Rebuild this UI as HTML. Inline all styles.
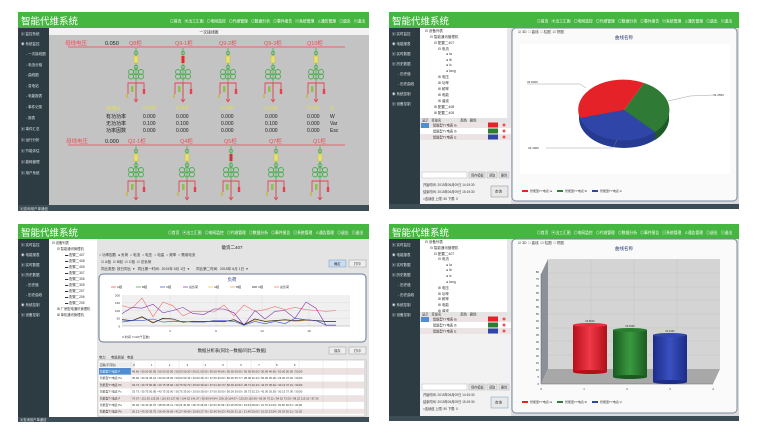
<!DOCTYPE html>
<html><head><meta charset="utf-8">
<style>
html,body{margin:0;padding:0;background:#fff;}
svg{display:block;font-family:"Liberation Sans","Noto Sans CJK SC",sans-serif;}
</style></head>
<body>
<svg width="763" height="436" viewBox="0 0 763 436" xmlns="http://www.w3.org/2000/svg">
<defs>
<g id="cub">
  <line x1="0" y1="0" x2="0" y2="54" stroke="#4caf50" stroke-width="0.8"/>
  <circle cx="0" cy="5" r="1.8" fill="none" stroke="#4caf50" stroke-width="0.8"/>
  <rect x="-2" y="8" width="4" height="7" fill="#e8e070" stroke="#c8c040" stroke-width="0.5"/>
  <circle cx="0" cy="19" r="1.8" fill="none" stroke="#4caf50" stroke-width="0.8"/>
  <g fill="none" stroke="#4caf50" stroke-width="0.9">
    <circle cx="-5" cy="24" r="2.5"/><circle cx="0" cy="24" r="2.5"/><circle cx="5" cy="24" r="2.5"/>
    <circle cx="-5" cy="28.5" r="2.5"/><circle cx="0" cy="28.5" r="2.5"/><circle cx="5" cy="28.5" r="2.5"/>
  </g>
  <polyline points="-8,46 -8,35 8,35 8,41" fill="none" stroke="#e84050" stroke-width="0.9"/>
  <line x1="0" y1="35" x2="0" y2="54" stroke="#e84050" stroke-width="0.9"/>
  <rect x="-5" y="38" width="2.5" height="6" fill="#8bc34a"/>
  <rect x="6.8" y="41" width="2.4" height="5" fill="#e84050"/>
  <line x1="-9" y1="46" x2="-9" y2="50" stroke="#c8b000" stroke-width="1"/>
  <path d="M-2,51 L0,54 L2,51" fill="none" stroke="#e84050" stroke-width="0.7"/>
</g>
<g id="side">
  <rect x="0" y="0" width="31" height="180" fill="#2d3b42"/>
</g>
</defs>

<!-- ================= TOP LEFT ================= -->
<rect x="18" y="12" width="351" height="199" fill="#c3c3c3"/>
<rect x="18" y="12" width="351" height="16" fill="#45b63f"/>
<text x="21" y="24.5" font-size="9.5" fill="#fff">智能代维系统</text>
<text x="170" y="22.5" font-size="3.8" fill="#fff" xml:space="preserve">◎首页   ▣出工汇图   ◎电网监控   ◎代维管理   ◎数据分析   ◎事件报告   ▤系统管理   ♙通告管理   ◎退出   ▤退出</text>
<rect x="18" y="28" width="31" height="177" fill="#2d3b42"/>
<g font-size="3.5" fill="#dfe6e8">
<text x="21" y="35">▣ 监控系统</text><text x="21" y="45">◉ 系统监控</text>
<text x="26" y="55">- 一次接线图</text><text x="26" y="66">- 电流分相</text><text x="26" y="76">- 曲线图</text>
<text x="26" y="87">- 变电站</text><text x="26" y="97">- 电能报表</text><text x="26" y="108">- 事件记录</text><text x="26" y="119">- 报表</text>
<text x="21" y="130">▣ 事件汇总</text><text x="21" y="141">▣ 运行分析</text><text x="21" y="152">▣ 节能评估</text><text x="21" y="163">▣ 能耗管理</text><text x="21" y="174">▣ 用户系统</text>
</g>
<rect x="49" y="28" width="320" height="7" fill="#f2f2f2"/>
<text x="209" y="33.5" font-size="3.8" fill="#333" text-anchor="middle">一次接线图</text>
<rect x="18" y="205" width="351" height="6" fill="#3c4d55"/>
<text x="20" y="209.8" font-size="3.5" fill="#ddd">▣查询用户单通信</text>

<line x1="68" y1="47" x2="345" y2="47" stroke="#e8606a" stroke-width="1"/>
<g font-size="5.5">
<text x="65" y="45" fill="#e8505a">母线电压</text>
<text x="105" y="45" fill="#222">0.050</text>
<g fill="#e8505a"><text x="129" y="45">Q8柜</text><text x="175" y="45">Q9-1柜</text><text x="219" y="45">Q9-2柜</text><text x="264" y="45">Q9-3柜</text><text x="307" y="45">Q10柜</text></g>
</g>
<use href="#cub" x="136" y="48"/><use href="#cub" x="183" y="48"/><use href="#cub" x="228" y="48"/><use href="#cub" x="273" y="48"/><use href="#cub" x="316" y="48"/>
<rect x="181.5" y="56" width="3" height="7" fill="#e8205a"/>
<g font-size="5">
<text x="106" y="110" fill="#e0e050">电流Ia</text>
<g fill="#e0e050"><text x="143" y="110">0.000</text><text x="176" y="110">0.000</text><text x="221" y="110">0.000</text><text x="265" y="110">0.000</text><text x="307" y="110">0.000</text><text x="330" y="110">A</text></g>
<g fill="#222">
<text x="106" y="118">有功功率</text><text x="143" y="118">0.000</text><text x="176" y="118">0.000</text><text x="221" y="118">0.000</text><text x="265" y="118">0.000</text><text x="307" y="118">0.000</text><text x="330" y="118">W</text>
<text x="106" y="125">无功功率</text><text x="143" y="125">0.100</text><text x="176" y="125">0.100</text><text x="221" y="125">0.000</text><text x="265" y="125">0.100</text><text x="307" y="125">0.000</text><text x="330" y="125">Var</text>
<text x="106" y="132">功率因数</text><text x="143" y="132">0.000</text><text x="176" y="132">0.000</text><text x="221" y="132">0.000</text><text x="265" y="132">0.000</text><text x="307" y="132">0.000</text><text x="330" y="132">Esc</text>
</g>
</g>
<line x1="68" y1="145" x2="345" y2="145" stroke="#e8606a" stroke-width="1"/>
<g font-size="5.5">
<text x="66" y="143" fill="#e8505a">母线电压</text>
<text x="105" y="143" fill="#222">0.000</text>
<g fill="#e8505a"><text x="128" y="143">Q2-1柜</text><text x="180" y="143">Q4柜</text><text x="224" y="143">Q5柜</text><text x="269" y="143">Q7柜</text><text x="313" y="143">Q1柜</text></g>
</g>
<use href="#cub" x="136" y="146"/><use href="#cub" x="187" y="146"/><use href="#cub" x="231" y="146"/><use href="#cub" x="276" y="146"/><use href="#cub" x="320" y="146"/>
<rect x="229.5" y="154" width="3" height="7" fill="#c03070"/>

<!-- ================= TOP RIGHT ================= -->
<rect x="389" y="12" width="350" height="197" fill="#dcdcdc"/>
<rect x="389" y="12" width="350" height="16" fill="#45b63f"/>
<text x="392" y="24.5" font-size="9.5" fill="#fff">智能代维系统</text>
<text x="537" y="22.5" font-size="3.8" fill="#fff" xml:space="preserve">◎首页   ▣出工汇图   ◎电网监控   ◎代维管理   ◎数据分析   ◎事件报告   ▤系统管理   ♙通告管理   ◎退出   ▤退出</text>
<rect x="389" y="28" width="31" height="176" fill="#2d3b42"/>
<g font-size="3.5" fill="#dfe6e8">
<text x="392" y="35">▣ 实时监控</text><text x="392" y="45">◉ 电能报表</text><text x="392" y="55">▣ 实时数据</text><text x="392" y="65">▣ 历史数据</text>
<text x="398" y="75">- 历史值</text><text x="398" y="85">- 历史曲线</text><text x="392" y="95">◉ 系统控制</text><text x="392" y="105">▣ 设备控制</text>
</g>
<rect x="420" y="28" width="91" height="176" fill="#f2f2f2"/>
<rect x="420" y="28" width="87" height="90" fill="#fff"/>
<rect x="507" y="28" width="4" height="90" fill="#e6e6e6"/>
<g font-size="3.5" fill="#333">
<text x="425" y="32">⊟ 设备列表</text><text x="430" y="38">⊟ 智能通讯管理机</text><text x="434" y="44">⊟ 配置二407</text><text x="438" y="50">⊟ 电流</text>
<text x="446" y="55">● Ia</text><text x="446" y="61">● Ib</text><text x="446" y="66">● Ic</text><text x="446" y="72">● Iavg</text>
<text x="438" y="78">⊞ 电压</text><text x="438" y="84">⊞ 功率</text><text x="438" y="90">⊞ 频率</text><text x="438" y="96">⊞ 电能</text><text x="438" y="102">⊞ 谐波</text>
<text x="434" y="108">⊞ 配置二408</text><text x="434" y="114">⊞ 配置二405</text>
</g>
<rect x="420" y="118" width="91" height="4" fill="#e4e4e4"/>
<text x="422" y="121.3" font-size="3.3" fill="#333" xml:space="preserve">显示   变量名                     颜色   删除</text>
<rect x="420" y="122" width="91" height="6" fill="#ece4e4"/><rect x="420" y="128" width="91" height="6" fill="#fff"/><rect x="420" y="134" width="91" height="6" fill="#ece4e4"/>
<rect x="421" y="123" width="8" height="5" fill="#4f8ed0"/>
<g font-size="3.2" fill="#333"><text x="433" y="126.5">智能型TY电表 Ia</text><text x="433" y="132.5">智能型TY电表 Ib</text><text x="433" y="138.5">智能型TY电表 Ic</text></g>
<rect x="488" y="122.5" width="10" height="5" fill="#e52227"/><rect x="488" y="128.5" width="10" height="5" fill="#2e7d32"/><rect x="488" y="134.5" width="10" height="5" fill="#2f46a8"/>
<circle cx="504" cy="125" r="1.5" fill="#e8505a"/><circle cx="504" cy="131" r="1.5" fill="#e8505a"/><circle cx="504" cy="137" r="1.5" fill="#e8505a"/>
<rect x="422" y="172" width="45" height="6" fill="#fff" stroke="#aaa" stroke-width="0.4"/>
<rect x="469" y="172" width="16" height="6" fill="#e8e8e8" stroke="#999" stroke-width="0.4"/><rect x="487" y="172" width="10" height="6" fill="#e8e8e8" stroke="#999" stroke-width="0.4"/><rect x="499" y="172" width="10" height="6" fill="#e8e8e8" stroke="#999" stroke-width="0.4"/>
<g font-size="3.2" fill="#333"><text x="471" y="176.3">保存模板</text><text x="489" y="176.3">读取</text><text x="501" y="176.3">删除</text>
<text x="423" y="186">开始时间: 2015年06月09日 14:19:30</text><text x="423" y="193">结束时间: 2015年06月09日 15:19:30</text><text x="423" y="200">□连续值  上限: 50     下限: 0</text></g>
<rect x="491" y="186" width="17" height="11" fill="#e8e8e8" stroke="#888" stroke-width="0.5"/>
<text x="495" y="192.5" font-size="3.5" fill="#333">查询</text>
<rect x="389" y="204" width="350" height="5" fill="#3c4d55"/>
<rect x="512" y="28" width="225" height="173" rx="4" fill="#fafafa" stroke="#7a8aa0" stroke-width="1"/>
<text x="518" y="33" font-size="3.5" fill="#333" xml:space="preserve">☑ 3D  □ 曲线  □ 柱图  ☑ 饼图</text>
<text x="624" y="39" font-size="4.5" fill="#2a3a70" text-anchor="middle">曲线名称</text>
<rect x="520" y="44" width="210" height="130" fill="#fff"/>
<!-- pie -->
<path d="M579,110 L579,118 A45,30 0 0 0 669,118 L669,110 Z" fill="#253a90"/>
<path d="M624,110 L669,110 L669,118 A45,30 0 0 1 655,140 L655,132 Z" fill="#1e5a25"/>
<path d="M624,110 L644,83 A45,30 0 0 1 655,132 Z" fill="#2f7a35"/>
<path d="M624,110 L655,132 A45,30 0 0 1 580,118 Z" fill="#2f46a8"/>
<path d="M624,110 L580,118 A45,30 0 0 1 644,83 Z" fill="#e52227"/>
<polyline points="586,88 580,84 527,84" fill="none" stroke="#888" stroke-width="0.4"/>
<polyline points="668,101 690,96 713,95" fill="none" stroke="#888" stroke-width="0.4"/>
<polyline points="617,140 613,148 546,148" fill="none" stroke="#888" stroke-width="0.4"/>
<g font-size="3" fill="#333"><text x="527" y="83">33.8020</text><text x="713" y="96">33.4550</text><text x="528" y="149">33.4960</text></g>
<g font-size="3" fill="#333">
<rect x="522" y="190" width="6" height="2" fill="#e52227"/><text x="530" y="192">智能型TY电表 Ia</text>
<rect x="557" y="190" width="6" height="2" fill="#2e7d32"/><text x="565" y="192">智能型TY电表 Ib</text>
<rect x="592" y="190" width="6" height="2" fill="#2f46a8"/><text x="600" y="192">智能型TY电表 Ic</text>
</g>

<!-- ================= BOTTOM LEFT ================= -->
<rect x="18" y="224" width="351" height="198" fill="#e4e4e4"/>
<rect x="18" y="224" width="351" height="15" fill="#45b63f"/>
<text x="21" y="236" font-size="9.5" fill="#fff">智能代维系统</text>
<text x="168" y="234" font-size="3.8" fill="#fff" xml:space="preserve">◎首页   ▣出工汇图   ◎电网监控   ◎代维管理   ◎数据分析   ◎事件报告   ▤系统管理   ♙通告管理   ◎退出   ▤退出</text>
<rect x="18" y="239" width="31" height="178" fill="#2d3b42"/>
<g font-size="3.5" fill="#dfe6e8">
<text x="21" y="246">▣ 实时监控</text><text x="21" y="256">◉ 电能报表</text><text x="21" y="266">▣ 实时数据</text><text x="21" y="276">▣ 历史数据</text>
<text x="26" y="286">- 历史值</text><text x="26" y="296">- 历史曲线</text><text x="21" y="306">◉ 系统控制</text><text x="21" y="316">▣ 设备控制</text>
</g>
<rect x="49" y="239" width="48" height="178" fill="#fff"/>
<g font-size="3.3" fill="#333">
<text x="52" y="244">⊟ 设备列表</text><text x="57" y="250">⊟ 智能通讯管理机</text>
<text x="65" y="256">▬ 配置二407</text><text x="65" y="262">▬ 配置二408</text><text x="65" y="268">▬ 配置二405</text><text x="65" y="274">▬ 配置二307</text><text x="65" y="280">▬ 配置二306</text><text x="65" y="286">▬ 配置二305</text><text x="65" y="292">▬ 配置二207</text><text x="65" y="298">▬ 配置二206</text><text x="65" y="304">▬ 配置二205</text>
<text x="57" y="310">⊞ 厂房配电通讯管理机</text><text x="57" y="316">⊞ 单机通讯管理机</text>
</g>
<text x="232" y="249" font-size="4.5" fill="#222" text-anchor="middle">徽资二407</text>
<text x="99" y="256" font-size="3.5" fill="#333" xml:space="preserve">○ 功率因数  ● 负荷  ○ 电流  ○ 电压  ○ 电量  ○ 频率  ○ 需用电流</text>
<text x="101" y="263" font-size="3.5" fill="#333" xml:space="preserve">☑ A相  ☑ B相  ☑ C相  ☑ 总负荷</text>
<text x="101" y="270" font-size="3.5" fill="#333" xml:space="preserve">同比类型: 按日同比  ▾   同比第一时间:  2015年 5月 1日  ▾       同比第二时间:  2015年 6月 1日  ▾</text>
<rect x="329" y="260" width="17" height="7" fill="#c9dcf0" stroke="#7a9cc0" stroke-width="0.5"/><rect x="349" y="260" width="17" height="7" fill="#eee" stroke="#999" stroke-width="0.5"/>
<g font-size="3.3" fill="#333"><text x="334" y="264.8">确定</text><text x="354" y="264.8">打印</text></g>
<rect x="99" y="274" width="267" height="68" rx="4" fill="#fff" stroke="#6a7a98" stroke-width="1"/>
<text x="232" y="281" font-size="4.5" fill="#2a3a70" text-anchor="middle">负荷</text>
<g font-size="3" fill="#333">
<line x1="111" y1="287" x2="116" y2="287" stroke="#e84050" stroke-width="0.7"/><text x="117" y="288">A相</text>
<line x1="136" y1="287" x2="141" y2="287" stroke="#3a9a3a" stroke-width="0.7"/><text x="142" y="288">B相</text>
<line x1="160" y1="287" x2="165" y2="287" stroke="#3050d0" stroke-width="0.7"/><text x="166" y="288">C相</text>
<line x1="183" y1="287" x2="188" y2="287" stroke="#8030b0" stroke-width="0.7"/><text x="189" y="288">总负荷</text>
<line x1="208" y1="287" x2="213" y2="287" stroke="#e0d020" stroke-width="0.7"/><text x="214" y="288">A相</text>
<line x1="230" y1="287" x2="235" y2="287" stroke="#f0a040" stroke-width="0.7"/><text x="236" y="288">B相</text>
<line x1="252" y1="287" x2="257" y2="287" stroke="#111" stroke-width="0.7"/><text x="258" y="288">C相</text>
<line x1="274" y1="287" x2="279" y2="287" stroke="#f07070" stroke-width="0.7"/><text x="280" y="288">总负荷</text>
</g>
<rect x="122" y="295" width="228" height="31" fill="#f0f0f0"/>
<g stroke="#d8d8d8" stroke-width="0.4">
<line x1="122" y1="302.7" x2="350" y2="302.7"/><line x1="122" y1="310.5" x2="350" y2="310.5"/><line x1="122" y1="318.2" x2="350" y2="318.2"/>
<line x1="170" y1="295" x2="170" y2="326"/><line x1="216" y1="295" x2="216" y2="326"/><line x1="262" y1="295" x2="262" y2="326"/><line x1="309" y1="295" x2="309" y2="326"/>
</g>
<line x1="122" y1="326" x2="350" y2="326" stroke="#888" stroke-width="0.4"/>
<g font-size="3" fill="#333" text-anchor="end"><text x="120" y="296.5">200</text><text x="120" y="304">150</text><text x="120" y="312">100</text><text x="120" y="319.5">50</text><text x="120" y="327.5">0</text></g>
<g font-size="3" fill="#333" text-anchor="middle"><text x="170" y="332">4</text><text x="216" y="332">9</text><text x="262" y="332">14</text><text x="309" y="332">19</text></g>
<text x="122" y="338" font-size="3" fill="#333">X:时间 Y:kW(千瓦数)</text>
<g fill="none" stroke-width="0.6">
<polyline stroke="#f07070" points="122,305.8 132,308.2 142,298.1 153,316.7 163,302 173,305.8 183,315.9 193,311.3 204,311.3 214,312 224,305 234,315.9 244,305 255,311.3 265,309.7 275,306.6 285,309.7 295,307.4 306,309.7 316,310.5 326,311.3 336,310.5"/>
<polyline stroke="#8030b0" points="122,313.6 132,307.4 142,308.2 153,304.3 163,312.8 173,310.5 183,307.4 193,313.6 204,314.4 214,309 224,309 234,312.8 244,325.2 255,310.5 265,319 275,311.3 285,310.5 295,318.3 306,302 316,308.2 326,325.2 336,325.2"/>
<polyline stroke="#f0a040" points="122,319 132,321 142,317.5 153,322 163,319 173,320 183,322.5 193,321 204,322 214,321 224,322 234,319.5 244,324.5 255,320 265,321 275,321 285,320 295,321.4 306,320.5 316,321 326,321.4 336,321.4"/>
<polyline stroke="#111" points="122,319.8 132,320.6 142,316.7 153,322.9 163,318.3 173,319 183,322.1 193,321.4 204,321.4 214,321.4 224,321.4 234,319.8 244,324.5 255,319 265,321.4 275,320.6 285,319.8 295,320.6 306,319.8 316,320.6 326,321.4 336,321.4"/>
<polyline stroke="#3050d0" points="122,322.1 132,320.6 142,320.6 153,319 163,322.1 173,321.4 183,321.4 193,322.1 204,322.1 214,320.6 224,320.6 234,321.4 244,325.2 255,321.4 265,323.7 275,321.4 285,323.7 295,318.3 306,319.8 316,320.6 326,325.2 336,325.2"/>
</g>
<text x="232" y="352" font-size="4.3" fill="#222" text-anchor="middle">数据分析表(同比一数据/同比二数据)</text>
<rect x="329" y="347" width="17" height="7" fill="#eee" stroke="#999" stroke-width="0.5"/><rect x="349" y="347" width="17" height="7" fill="#eee" stroke="#999" stroke-width="0.5"/>
<g font-size="3.3" fill="#333"><text x="334" y="351.8">保存</text><text x="354" y="351.8">打印</text>
<text x="99" y="358.5">电力</text><text x="111" y="358.5">电能质量</text><text x="127" y="358.5">电量</text></g>
<rect x="98" y="360" width="268" height="56" fill="#fff" stroke="#999" stroke-width="0.4"/>
<g fill="#ece2e2"><rect x="99" y="368" width="265" height="6.8"/><rect x="99" y="381.6" width="265" height="6.8"/><rect x="99" y="395.2" width="265" height="6.8"/><rect x="99" y="408.8" width="265" height="5"/></g>
<rect x="99" y="361.5" width="36" height="6" fill="#eee"/>
<rect x="99" y="368" width="32" height="6.6" fill="#4f8ed0"/>
<g stroke="#ccc" stroke-width="0.3">
<line x1="131" y1="361" x2="131" y2="413"/><line x1="155" y1="361" x2="155" y2="413"/><line x1="179" y1="361" x2="179" y2="413"/><line x1="203" y1="361" x2="203" y2="413"/><line x1="227" y1="361" x2="227" y2="413"/><line x1="251" y1="361" x2="251" y2="413"/><line x1="275" y1="361" x2="275" y2="413"/><line x1="299" y1="361" x2="299" y2="413"/><line x1="323" y1="361" x2="323" y2="413"/><line x1="347" y1="361" x2="347" y2="413"/>
</g>
<g font-size="2.8" fill="#333">
<text x="100" y="366">回路(不同值)</text>
<text x="133" y="366" xml:space="preserve">0                     1                     2                     3                     4                     5                     6                     7                     8                     9</text>
<text x="100" y="372.5" fill="#fff">智能型TY电表 P</text><text x="100" y="379">智能型TY电表 Pa</text><text x="100" y="386">智能型TY电表 Pb</text><text x="100" y="392.5">智能型TY电表 Pc</text><text x="100" y="399.5">智能型TY电表 P</text><text x="100" y="406">智能型TY电表 Pa</text><text x="100" y="412.5">智能型TY电表 Pb</text>
<text x="132" y="372.5">46.66 / 50.00  50.00 / 50.00  50.00 / 50.00  50.00 / 50.01  50.00 / 50.00  46.66 / 50.00  50.00 / 50.00  50.00 / 50.00  46.66 / 50.00  50.00 / 50.00</text>
<text x="132" y="379">35.00 / 33.33  35.12 / 30.00  35.00 / 50.00  53.33 / 20.00  36.73 / 37.06  30.00 / 50.00  35.77 / 28.00  32.23 / 50.00  35.00 / 26.00  37.06 / 30.00</text>
<text x="132" y="386">33.73 / 40.73  50.00 / 40.75  35.00 / 40.75  53.70 / 25.00  36.62 / 37.01  40.73 / 50.00  42.54 / 28.71  32.23 / 42.07  35.40 / 40.13  37.31 / 30.00</text>
<text x="132" y="392.5">33.73 / 30.75  50.00 / 40.75  35.00 / 30.75  35.00 / 20.00  30.00 / 37.00  30.00 / 50.00  30.00 / 28.73  32.23 / 42.00  35.50 / 30.13  37.00 / 30.00</text>
<text x="132" y="399.5">79.07 / 131.30  125.05 / 110.63  127.90 / 104.52  141.07 / 92.60  64.64 / 158.10  104.07 / 125.50  110.90 / 65.00  75.11 / 94.52  72.00 / 98.22  113.15 / 87.20</text>
<text x="132" y="406">35.30 / 43.40  40.07 / 38.50  35.11 / 33.24  40.60 / 28.70  26.03 / 32.54  34.59 / 43.18  25.54 / 23.54  28.02 / 31.70  24.03 / 29.50  30.01 / 32.00</text>
<text x="132" y="412.5">26.13 / 43.30  35.75 / 26.40  36.60 / 41.27  40.60 / 20.60  27.76 / 32.40  34.23 / 43.00  31.11 / 21.40  25.03 / 31.02  23.54 / 29.33  30.21 / 31.02</text>
</g>
<rect x="364" y="361" width="2" height="55" fill="#ddd"/>
<rect x="18" y="417" width="351" height="5" fill="#3c4d55"/>
<text x="20" y="421" font-size="3.3" fill="#ddd">▣查询用户单通信</text>

<!-- ================= BOTTOM RIGHT ================= -->
<rect x="389" y="224" width="350" height="197" fill="#dcdcdc"/>
<rect x="389" y="224" width="350" height="15" fill="#45b63f"/>
<text x="392" y="236" font-size="9.5" fill="#fff">智能代维系统</text>
<text x="537" y="234" font-size="3.8" fill="#fff" xml:space="preserve">◎首页   ▣出工汇图   ◎电网监控   ◎代维管理   ◎数据分析   ◎事件报告   ▤系统管理   ♙通告管理   ◎退出   ▤退出</text>
<rect x="389" y="239" width="31" height="177" fill="#2d3b42"/>
<g font-size="3.5" fill="#dfe6e8">
<text x="392" y="246">▣ 实时监控</text><text x="392" y="256">◉ 电能报表</text><text x="392" y="266">▣ 实时数据</text><text x="392" y="276">▣ 历史数据</text>
<text x="398" y="286">- 历史值</text><text x="398" y="296">- 历史曲线</text><text x="392" y="306">◉ 系统控制</text><text x="392" y="316">▣ 设备控制</text>
</g>
<rect x="420" y="239" width="91" height="177" fill="#f2f2f2"/>
<rect x="420" y="239" width="87" height="73" fill="#fff"/>
<rect x="507" y="239" width="4" height="73" fill="#e6e6e6"/>
<g font-size="3.5" fill="#333">
<text x="425" y="243">⊟ 设备列表</text><text x="430" y="249">⊟ 智能通讯管理机</text><text x="434" y="255">⊟ 配置二407</text><text x="438" y="260">⊟ 电流</text>
<text x="446" y="266">● Ia</text><text x="446" y="271">● Ib</text><text x="446" y="277">● Ic</text><text x="446" y="283">● Iavg</text>
<text x="438" y="289">⊞ 电压</text><text x="438" y="295">⊞ 功率</text><text x="438" y="300">⊞ 频率</text><text x="438" y="306">⊞ 电能</text><text x="438" y="312">⊞ 谐波</text>
</g>
<rect x="420" y="312" width="91" height="4" fill="#e4e4e4"/>
<text x="422" y="315.3" font-size="3.3" fill="#333" xml:space="preserve">显示   变量名                     颜色   删除</text>
<rect x="420" y="316" width="91" height="6" fill="#ece4e4"/><rect x="420" y="322" width="91" height="6" fill="#fff"/><rect x="420" y="328" width="91" height="6" fill="#ece4e4"/>
<rect x="421" y="317" width="8" height="5" fill="#4f8ed0"/>
<g font-size="3.2" fill="#333"><text x="433" y="320.5">智能型TY电表 Ia</text><text x="433" y="326.5">智能型TY电表 Ib</text><text x="433" y="332.5">智能型TY电表 Ic</text></g>
<rect x="488" y="316.5" width="10" height="5" fill="#e52227"/><rect x="488" y="322.5" width="10" height="5" fill="#2e7d32"/><rect x="488" y="328.5" width="10" height="5" fill="#2f46a8"/>
<circle cx="504" cy="319" r="1.5" fill="#e8505a"/><circle cx="504" cy="325" r="1.5" fill="#e8505a"/><circle cx="504" cy="331" r="1.5" fill="#e8505a"/>
<rect x="422" y="384" width="45" height="6" fill="#fff" stroke="#aaa" stroke-width="0.4"/>
<rect x="469" y="384" width="16" height="6" fill="#e8e8e8" stroke="#999" stroke-width="0.4"/><rect x="487" y="384" width="10" height="6" fill="#e8e8e8" stroke="#999" stroke-width="0.4"/><rect x="499" y="384" width="10" height="6" fill="#e8e8e8" stroke="#999" stroke-width="0.4"/>
<g font-size="3.2" fill="#333"><text x="471" y="388.3">保存模板</text><text x="489" y="388.3">读取</text><text x="501" y="388.3">删除</text>
<text x="423" y="396">开始时间: 2015年06月09日 14:19:30</text><text x="423" y="403">结束时间: 2015年06月09日 15:19:30</text><text x="423" y="410">□连续值  上限: 50     下限: 0</text></g>
<rect x="491" y="397" width="17" height="11" fill="#e8e8e8" stroke="#7a9cc0" stroke-width="0.5"/>
<text x="495" y="403.5" font-size="3.5" fill="#333">查询</text>
<rect x="389" y="416" width="350" height="5" fill="#3c4d55"/>
<rect x="512" y="239" width="225" height="174" rx="4" fill="#fafafa" stroke="#7a8aa0" stroke-width="1"/>
<text x="518" y="244" font-size="3.5" fill="#333" xml:space="preserve">☑ 3D  □ 曲线  ☑ 柱图  □ 饼图</text>
<text x="624" y="250" font-size="4.5" fill="#2a3a70" text-anchor="middle">曲线名称</text>
<!-- 3D bar chart -->
<polygon points="541,384 548,369 548,259 541,274" fill="#8c9098"/>
<rect x="548" y="259" width="172" height="110" fill="#d4d4d4"/>
<g stroke="#bcbcbc" stroke-width="0.3">
<line x1="548" y1="273" x2="720" y2="273"/><line x1="548" y1="287" x2="720" y2="287"/><line x1="548" y1="300" x2="720" y2="300"/><line x1="548" y1="314" x2="720" y2="314"/><line x1="548" y1="328" x2="720" y2="328"/><line x1="548" y1="341" x2="720" y2="341"/><line x1="548" y1="355" x2="720" y2="355"/>
<line x1="591" y1="259" x2="591" y2="369"/><line x1="634" y1="259" x2="634" y2="369"/><line x1="677" y1="259" x2="677" y2="369"/>
</g>
<polygon points="541,384 713,384 720,369 548,369" fill="#a8a8a8"/>
<line x1="541" y1="384" x2="713" y2="384" stroke="#666" stroke-width="0.5"/>
<line x1="541" y1="274" x2="541" y2="384" stroke="#666" stroke-width="0.5"/>
<g font-size="2.8" fill="#333" text-anchor="end">
<text x="539" y="385">0</text><text x="539" y="378">5</text><text x="539" y="371">10</text><text x="539" y="364">15</text><text x="539" y="357">20</text><text x="539" y="350">25</text><text x="539" y="343">30</text><text x="539" y="336">35</text><text x="539" y="329">40</text><text x="539" y="322">45</text><text x="539" y="315">50</text><text x="539" y="308">55</text><text x="539" y="301">60</text><text x="539" y="294">65</text><text x="539" y="287">70</text><text x="539" y="280">75</text><text x="539" y="273">80</text>
</g>
<g font-size="2.8" fill="#333" text-anchor="middle"><text x="541" y="390">0</text><text x="584" y="390">1</text><text x="627" y="390">2</text><text x="670" y="390">3</text><text x="713" y="390">4</text></g>
<defs>
<linearGradient id="gr" x1="0" x2="1"><stop offset="0" stop-color="#b8101c"/><stop offset="0.5" stop-color="#f03848"/><stop offset="1" stop-color="#b01018"/></linearGradient>
<linearGradient id="gg" x1="0" x2="1"><stop offset="0" stop-color="#1a5a20"/><stop offset="0.5" stop-color="#3a9a40"/><stop offset="1" stop-color="#1a5a20"/></linearGradient>
<linearGradient id="gb" x1="0" x2="1"><stop offset="0" stop-color="#1c2c88"/><stop offset="0.5" stop-color="#3a50c0"/><stop offset="1" stop-color="#1c2c88"/></linearGradient>
</defs>
<rect x="573" y="325" width="34" height="47" fill="url(#gr)"/><ellipse cx="590" cy="372" rx="17" ry="2" fill="#b01018"/><ellipse cx="590" cy="325" rx="17" ry="2" fill="#e83040"/>
<rect x="613" y="330" width="34" height="47" fill="url(#gg)"/><ellipse cx="630" cy="377" rx="17" ry="2" fill="#1a5a20"/><ellipse cx="630" cy="330" rx="17" ry="2" fill="#2a8030"/>
<rect x="653" y="335" width="34" height="47" fill="url(#gb)"/><ellipse cx="670" cy="382" rx="17" ry="2" fill="#1c2c88"/><ellipse cx="670" cy="335" rx="17" ry="2" fill="#3048b0"/>
<g font-size="2.6" fill="#333" text-anchor="middle"><text x="590" y="322">33.8020</text><text x="630" y="327">33.4550</text><text x="670" y="332">33.4960</text></g>
<g font-size="3" fill="#333">
<rect x="522" y="401" width="6" height="2" fill="#e52227"/><text x="530" y="403">智能型TY电表 Ia</text>
<rect x="557" y="401" width="6" height="2" fill="#2e7d32"/><text x="565" y="403">智能型TY电表 Ib</text>
<rect x="592" y="401" width="6" height="2" fill="#2f46a8"/><text x="600" y="403">智能型TY电表 Ic</text>
</g>
</svg>
</body></html>
